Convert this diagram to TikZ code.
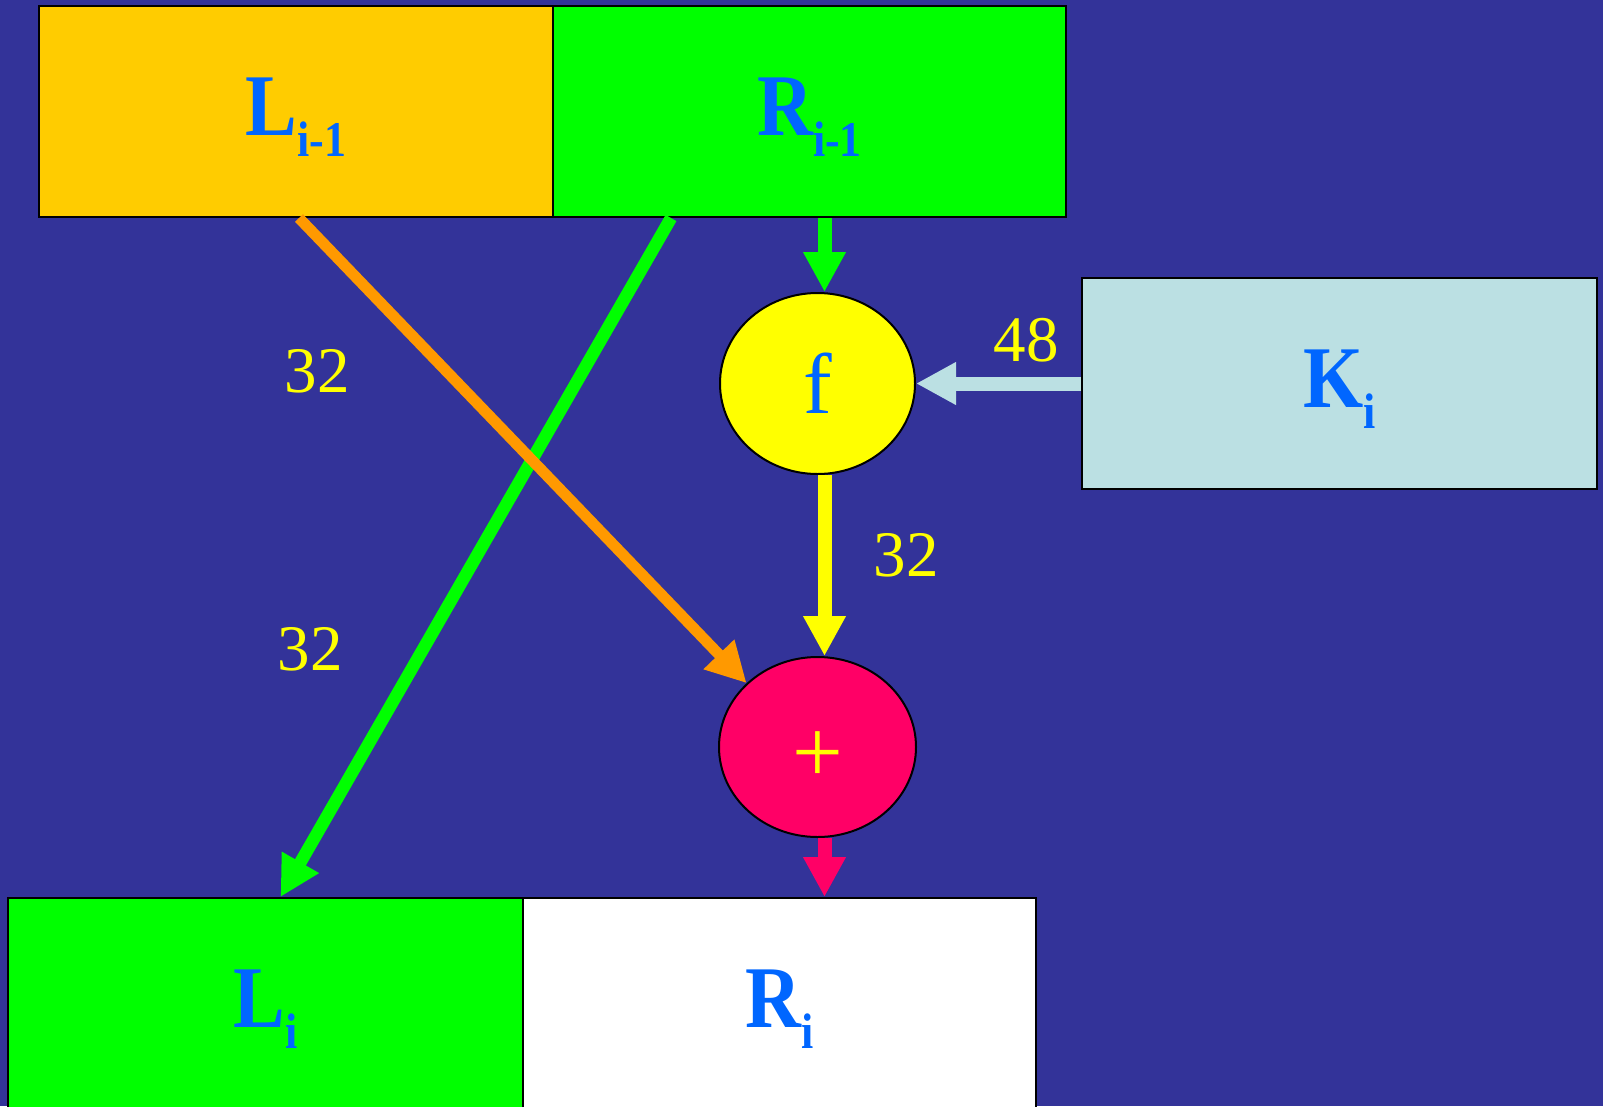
\documentclass[tikz,border=0pt]{standalone}
\usepackage{fontspec}
\setmainfont{Liberation Serif}
\newfontfamily\lblfont{Liberation Serif}[FakeStretch=0.88]
\usetikzlibrary{arrows.meta,shapes.geometric}
\definecolor{bg}{HTML}{333399}
\definecolor{boxorange}{HTML}{FFCC00}
\definecolor{boxgreen}{HTML}{00FF00}
\definecolor{boxblue}{HTML}{BBE0E3}
\definecolor{fyellow}{HTML}{FFFF00}
\definecolor{plusred}{HTML}{FF0066}
\definecolor{arrorange}{HTML}{FF9900}
\definecolor{txtblue}{HTML}{0066FF}
\newcommand\sbx[1]{\raisebox{-21pt}{\fontsize{50}{50}\selectfont #1}}
\begin{document}
\begin{tikzpicture}[x=1pt,y=-1pt,
  box/.style={draw=black,line width=2pt,minimum height=211pt,inner sep=0pt,
    text depth=10pt,
    font=\lblfont\bfseries\fontsize{88}{88}\selectfont,text=txtblue},
  op/.style={ellipse,draw=black,line width=2pt,inner sep=0pt},
  num/.style={text=fyellow,font=\fontsize{65}{65}\selectfont,inner sep=0pt},
  conn/.style={line width=14pt,-{Triangle[length=40pt,width=40pt]}},
  diag/.style={-{Triangle[length=40pt,width=40pt]}}]
\fill[bg] (0,0) rectangle (1603,1106);
\clip (0,0) rectangle (1603,1106);
\useasboundingbox (0,0) rectangle (1603,1106);

\node[box,fill=boxorange,minimum width=514pt] (Lprev) at (296,111.5) {L\sbx{i-1}};
\node[box,fill=boxgreen,minimum width=513pt] (Rprev) at (809.5,111.5) {R\sbx{i-1}};
\node[box,fill=boxblue,minimum width=515pt] (K) at (1339.5,383.5) {K\sbx{i}};
\node[box,fill=boxgreen,minimum width=515pt] (Li) at (265.5,1003.5) {L\sbx{i}};
\node[box,fill=white,minimum width=513pt] (Ri) at (779.5,1003.5) {R\sbx{i}};

\node[op,fill=fyellow,minimum width=195pt,minimum height=181pt,text=txtblue,
  font=\fontsize{86}{86}\selectfont] (f) at (817.5,383.5) {f};
\node[op,fill=plusred,minimum width=197pt,minimum height=180pt] (plus) at (817.5,747) {};
\node[text=fyellow,inner sep=0pt,font=\fontsize{90}{90}\selectfont] (plussym) at (817.5,757) {+};

\node[num] (n1) at (317,371) {32};
\node[num] (n2) at (310,649) {32};
\node[num] (n3) at (906,555) {32};
\node[num] (n4) at (1026,340) {48};

\coordinate (ftop) at ([xshift=7pt]f.north);
\coordinate (fbot) at ([xshift=7pt]f.south);
\coordinate (ptop) at ([xshift=7pt]plus.north);
\coordinate (pbot) at ([xshift=7pt]plus.south);

\draw[conn,boxgreen] (ftop |- Rprev.south) -- (ftop);
\draw[conn,fyellow] (fbot) -- (ptop);
\draw[conn,plusred] (pbot) -- (pbot |- Li.north);
\draw[conn,boxblue] (K.west) -- (f.east);
\draw[diag,line width=12.5pt,boxgreen] ([xshift=119pt]Rprev.south west) -- ([xshift=15pt]Li.north);
\draw[diag,line width=11pt,arrorange] ([xshift=3pt]Lprev.south) -- (plus.138);
\end{tikzpicture}
\end{document}
